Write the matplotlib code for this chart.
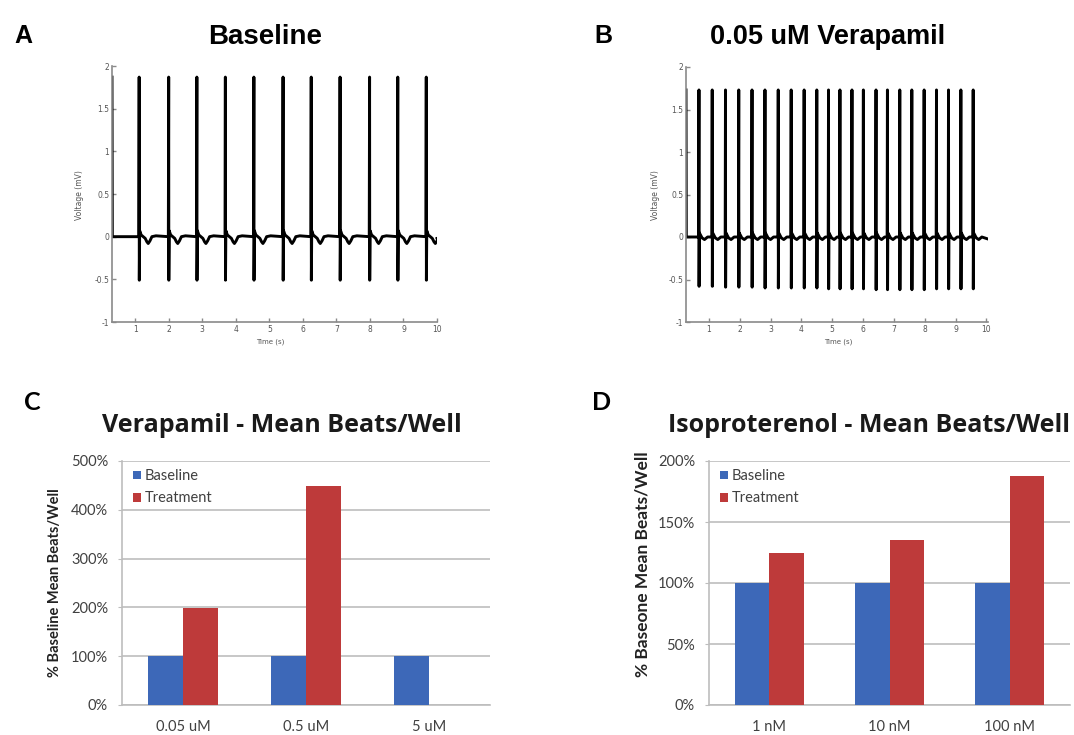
import numpy as np
import matplotlib
matplotlib.use("Agg")
import matplotlib.pyplot as plt

# ---------------- data ----------------
# panel A: baseline field potential trace
a_start = 0.31
a_end = 10.0
a_spikes = [1.12, 2.0, 2.84, 3.69, 4.54, 5.41, 6.25, 7.11, 7.99, 8.83, 9.68]
a_top = 1.87
a_bottom = -0.51
a_tail_t = [0.015, 0.06, 0.12, 0.18, 0.23, 0.27, 0.32, 0.38, 0.5]
a_tail_v = [0.07, 0.02, 0.0, -0.02, -0.06, -0.08, -0.05, 0.0, 0.01]

# panel B: 0.05 uM verapamil trace
b_start = 0.26
b_end = 10.02
b_spikes = [0.68, 1.11, 1.54, 1.97, 2.40, 2.82, 3.25, 3.67, 4.09, 4.50, 4.88, 5.25,
            5.64, 6.01, 6.42, 6.79, 7.19, 7.58, 7.98, 8.38, 8.77, 9.17, 9.57]
b_top = 1.73
b_bottom = [-0.58, -0.58, -0.59, -0.59, -0.59, -0.6, -0.6, -0.6, -0.6, -0.6, -0.61, -0.61,
            -0.61, -0.61, -0.62, -0.62, -0.62, -0.62, -0.62, -0.61, -0.61, -0.61, -0.61]
b_tail_t = [0.012, 0.04, 0.1, 0.18, 0.28]
b_tail_v = [0.05, 0.03, -0.01, -0.03, 0.0]

# panel C: verapamil
c_cats = ["0.05 uM", "0.5 uM", "5 uM"]
c_base = [100, 100, 100]
c_treat = [198, 448, 0]

# panel D: isoproterenol
d_cats = ["1 nM", "10 nM", "100 nM"]
d_base = [100, 100, 100]
d_treat = [125, 135, 188]

blue = "#3D68B8"
red = "#BE3A3A"
grid_col = "#BDBDBD"
txt_col = "#404040"


def build_trace(start, end, spikes, top, bottoms, tail_t, tail_v):
    t = [start, start + 0.01]
    v = [top, 0.0]
    for k, s in enumerate(spikes):
        bot = bottoms[k] if isinstance(bottoms, list) else bottoms
        t += [s - 0.01, s, s + 0.004]
        v += [0.0, top, bot]
        t += [s + dt for dt in tail_t]
        v += tail_v
    t.append(end)
    v.append(-0.02)
    return np.array(t), np.array(v)


W, H = 1074, 735
fig = plt.figure(figsize=(W / 100, H / 100), dpi=100)


def box(l, t, r, b):
    return [l / W, 1 - b / H, (r - l) / W, (b - t) / H]


def trace_axes(rect, tt, vv, xmin, xmax, ylab_x, xlab_x):
    ax = fig.add_axes(rect)
    ax.plot(tt, vv, color="black", lw=2.1, solid_joinstyle="round")
    ax.set_xlim(xmin, xmax)
    ax.set_ylim(-1, 2)
    ax.set_xticks(range(1, 11))
    ax.set_yticks([-1, -0.5, 0, 0.5, 1, 1.5, 2])
    ax.set_yticklabels(["-1", "-0.5", "0", "0.5", "1", "1.5", "2"])
    for sp in ["top", "right"]:
        ax.spines[sp].set_visible(False)
    for sp in ["left", "bottom"]:
        ax.spines[sp].set_color("#8a8a8a")
        ax.spines[sp].set_linewidth(1.2)
    ax.tick_params(direction="in", length=3, width=1, color="#8a8a8a",
                   labelsize=5.5, labelcolor="#555555", pad=2)
    fig.text(ylab_x / W, 1 - 195 / H, "Voltage (mV)", rotation=90, fontsize=5.5,
             color="#555555", ha="center", va="center")
    fig.text(xlab_x / W, 1 - 342 / H, "Time (s)", fontsize=5,
             color="#555555", ha="center", va="center")
    return ax


ta, va = build_trace(a_start, a_end, a_spikes, a_top, a_bottom, a_tail_t, a_tail_v)
trace_axes(box(112, 66, 437, 322), ta, va, a_start, a_end, 80, 270)

tb, vb = build_trace(b_start, b_end, b_spikes, b_top, b_bottom, b_tail_t, b_tail_v)
trace_axes(box(686, 67, 988, 322), tb, vb, b_start, b_end + 0.03, 655, 838)

fig.text(265 / W, 1 - 37 / H, "Baseline", fontsize=20, fontweight="bold",
         family="Liberation Sans", ha="center", va="center")
fig.text(828 / W, 1 - 37 / H, "0.05 uM Verapamil", fontsize=19.5, fontweight="bold",
         family="Liberation Sans", ha="center", va="center")
fig.text(23 / W, 1 - 36 / H, "A", fontsize=18, fontweight="bold",
         family="Liberation Sans", ha="center", va="center")
fig.text(603 / W, 1 - 36 / H, "B", fontsize=18, fontweight="bold",
         family="Liberation Sans", ha="center", va="center")


def bar_axes(rect, cats, base, treat, ymax, ystep, ylabel, ylab_x, ylab_y, ylab_fs):
    ax = fig.add_axes(rect)
    x = np.arange(len(cats))
    w = 1 / 3.5
    ax.bar(x - w / 2, base, w, color=blue, label="Baseline", zorder=3)
    ax.bar(x + w / 2, treat, w, color=red, label="Treatment", zorder=3)
    ax.set_xlim(-0.5, len(cats) - 0.5)
    ax.set_ylim(0, ymax)
    ticks = np.arange(0, ymax + 1, ystep)
    ax.set_yticks(ticks)
    ax.set_yticklabels([f"{int(t)}%" for t in ticks])
    ax.set_xticks(x)
    ax.set_xticklabels(cats)
    ax.grid(axis="y", color=grid_col, lw=1.2, zorder=0)
    for sp in ["top", "right"]:
        ax.spines[sp].set_visible(False)
    for sp in ["left", "bottom"]:
        ax.spines[sp].set_color(grid_col)
        ax.spines[sp].set_linewidth(1.2)
    ax.tick_params(axis="y", length=3, color=grid_col, labelsize=10.5,
                   labelcolor=txt_col, pad=7)
    ax.tick_params(axis="x", length=0, labelsize=10.5, labelcolor=txt_col, pad=11)
    for lab in ax.get_xticklabels() + ax.get_yticklabels():
        lab.set_family("Lato")
    leg = ax.legend(loc="upper left", bbox_to_anchor=(-0.005, 1.02), frameon=False,
                    handlelength=0.55, handleheight=0.55, handletextpad=0.25,
                    labelspacing=0.55, prop={"family": "Lato", "size": 10.5})
    for t in leg.get_texts():
        t.set_color(txt_col)
    fig.text(ylab_x / W, 1 - ylab_y / H, ylabel, rotation=90, fontsize=ylab_fs,
             fontweight="bold", family="Lato", color="#222222", ha="center", va="center")
    return ax


bar_axes(box(122, 461, 490, 705), c_cats, c_base, c_treat, 500, 100,
         "% Baseline Mean Beats/Well", 55, 583, 10.5)
bar_axes(box(709, 461, 1070, 705), d_cats, d_base, d_treat, 200, 50,
         "% Baseone Mean Beats/Well", 643, 564, 12.5)

fig.text(282 / W, 1 - 426 / H, "Verapamil - Mean Beats/Well", fontsize=18,
         fontweight="bold", family="Open Sans", color="#1a1a1a", ha="center", va="center")
fig.text(668 / W, 1 - 425 / H, "Isoproterenol - Mean Beats/Well", fontsize=18,
         fontweight="bold", family="Open Sans", color="#1a1a1a", ha="left", va="center")
fig.text(32 / W, 1 - 403 / H, "C", fontsize=18, fontweight="bold",
         family="Lato", ha="center", va="center")
fig.text(602 / W, 1 - 403 / H, "D", fontsize=18, fontweight="bold",
         family="Lato", ha="center", va="center")

fig.savefig("out.png", dpi=100)
